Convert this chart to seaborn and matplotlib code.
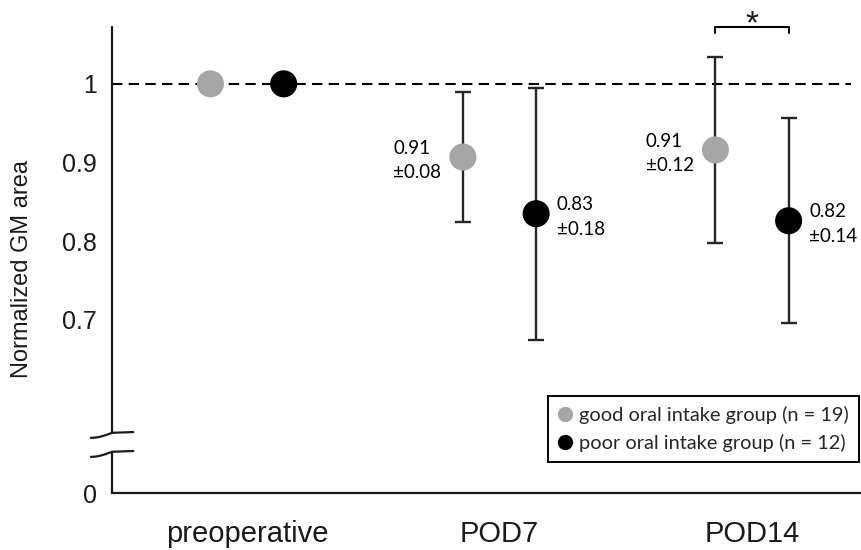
import numpy as np
import pandas as pd
import matplotlib
matplotlib.use('Agg')
import matplotlib.pyplot as plt
import seaborn as sns
from matplotlib.lines import Line2D

# values
timepoints = ['preoperative', 'POD7', 'POD14']
good_mean = [1.0, 0.907, 0.916]
good_err = [0.0, 0.083, 0.118]
poor_mean = [1.0, 0.835, 0.826]
poor_err = [0.0, 0.160, 0.130]
good_text = ['', '0.91\n±0.08', '0.91\n±0.12']
poor_text = ['', '0.83\n±0.18', '0.82\n±0.14']
group_names = ['good oral intake group (n = 19)', 'poor oral intake group (n = 12)']
ytick_vals = [1.0, 0.9, 0.8, 0.7]
ytick_labels = ['1', '0.9', '0.8', '0.7']

# layout constants
good_off, poor_off = -0.145, 0.145
y_zero = 0.48           # where the broken axis puts "0"
ylim = (0.48, 1.072)
xlim = (-0.5347, 2.4356)
colors = {group_names[0]: '#a6a6a6', group_names[1]: 'black'}
dark = '#1a1a1a'

rows = []
for i, t in enumerate(timepoints):
    rows.append(dict(time=t, group=group_names[0], x=i + good_off, mean=good_mean[i], err=good_err[i]))
    rows.append(dict(time=t, group=group_names[1], x=i + poor_off, mean=poor_mean[i], err=poor_err[i]))
df = pd.DataFrame(rows)

sns.set_style('white')
plt.rcParams['font.family'] = ['Liberation Sans', 'DejaVu Sans']

fig = plt.figure(figsize=(8.62, 5.5), dpi=100)
ax = fig.add_axes([0.13, 0.1036, 0.87, 0.847])

# reference line at 1
ax.axhline(1.0, xmin=0, xmax=0.985, color='black', lw=1.5, ls=(0, (5, 3)), zorder=1)

# error bars (behind the dots)
for g in group_names:
    sub = df[(df.group == g) & (df.err > 0)]
    ax.errorbar(sub.x, sub['mean'], yerr=sub.err, fmt='none', ecolor='#262626',
                elinewidth=1.7, capsize=5.5, capthick=1.7, zorder=2)

sns.scatterplot(data=df, x='x', y='mean', hue='group', palette=colors, s=380,
                edgecolor='none', legend=False, zorder=3, ax=ax)

# value annotations
ann_font = dict(family=['Lato', 'DejaVu Sans'], size=13.5, color='black')
for i in range(len(timepoints)):
    if good_text[i]:
        ax.annotate(good_text[i], (i + good_off, good_mean[i]), xytext=(-50, -2.5),
                    textcoords='offset points', ha='left', va='center',
                    multialignment='left', linespacing=1.55, **ann_font)
    if poor_text[i]:
        ax.annotate(poor_text[i], (i + poor_off, poor_mean[i]), xytext=(15, -2.5),
                    textcoords='offset points', ha='left', va='center',
                    multialignment='left', linespacing=1.55, **ann_font)

# significance bracket at POD14
x1, x2 = 2 + good_off, 2 + poor_off
ax.plot([x1, x1, x2, x2], [1.0645, 1.072, 1.072, 1.0645], color='black', lw=1.5, clip_on=False)
ax.text((x1 + x2) / 2, 1.0648, '*', ha='center', va='baseline', fontsize=24,
        color=dark)

# axes, with a broken y axis
ax.set_xlim(xlim)
ax.set_ylim(ylim)
for s in ['top', 'right', 'left']:
    ax.spines[s].set_visible(False)
ax.spines['bottom'].set_linewidth(1.6)
ax.spines['bottom'].set_color(dark)
ax.plot([xlim[0], xlim[0]], [0.5565, ylim[1]], color=dark, lw=1.6, clip_on=False)
ax.plot([xlim[0], xlim[0]], [ylim[0], 0.5324], color=dark, lw=1.6, clip_on=False)
t = np.linspace(-1, 1, 40)
bx = xlim[0] + t * 0.084
for y0 in [0.5565, 0.5324]:
    ax.plot(bx, y0 - 0.0064 * np.sin(-t * np.pi / 2) * (t < 0) + 0.001 * t * (t > 0),
            color=dark, lw=1.6, clip_on=False)

ax.set_yticks(ytick_vals + [y_zero])
ax.set_yticklabels(ytick_labels + ['0'], fontsize=18, color=dark)
ax.set_xticks(range(len(timepoints)))
ax.set_xticklabels(timepoints, fontsize=21, color=dark)
ax.tick_params(axis='y', length=0, pad=11)
ax.tick_params(axis='x', length=0, pad=19.5)
ax.set_xlabel('')
ax.set_ylabel('Normalized GM area', fontsize=17, color=dark)
ax.yaxis.set_label_coords(-0.105, 0.48)

handles = [Line2D([], [], marker='o', ls='', markersize=11, markeredgecolor='none',
                  markerfacecolor=colors[g]) for g in group_names]
leg = ax.legend(handles, group_names, loc='upper left', bbox_to_anchor=(0.581, 0.208),
                frameon=True, fancybox=False, edgecolor='black', framealpha=1,
                handlelength=0.7, handletextpad=0.35, borderpad=0.5, labelspacing=0.5,
                borderaxespad=0, prop=dict(family=['Lato', 'DejaVu Sans'], size=14.4))
leg.get_frame().set_linewidth(1.4)

fig.savefig('out.png', dpi=100)
